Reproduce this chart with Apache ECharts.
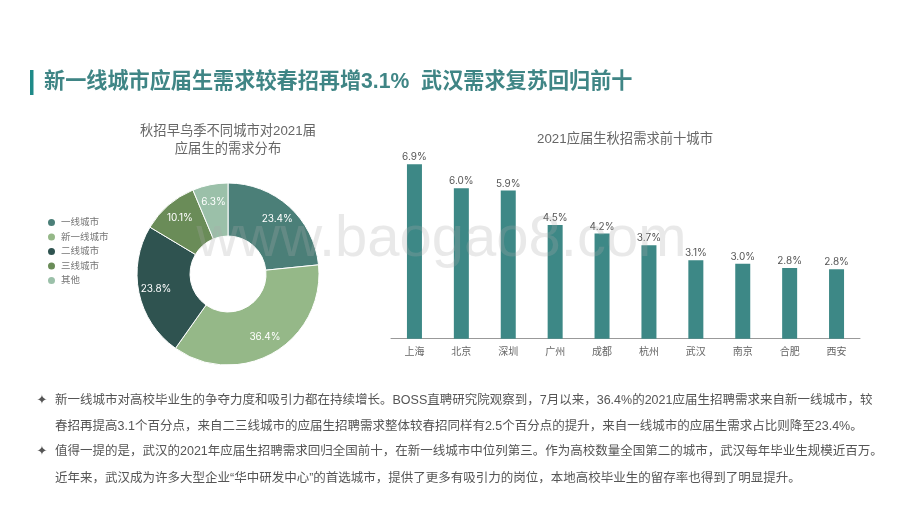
<!DOCTYPE html>
<html lang="zh">
<head>
<meta charset="UTF-8"/>
<title>新一线城市应届生需求</title>
<script src="https://cdn.jsdelivr.net/npm/echarts@6/dist/echarts.min.js"></script>
<style>
  html, body { margin: 0; padding: 0; background: #fff; }
  #main { width: 920px; height: 518px; }
</style>
</head>
<body>
<div id="main"></div>
<script>
var pieNames = ['一线城市', '新一线城市', '二线城市', '三线城市', '其他'];
var pieValues = [23.4, 36.4, 23.8, 10.1, 6.3];
var pieColors = ['#4b7f78', '#95b888', '#2f5350', '#6a8c58', '#9bc0a9'];

var cities = ['上海', '北京', '深圳', '广州', '成都', '杭州', '武汉', '南京', '合肥', '西安'];
// bar heights, they differ a bit from the printed labels
var cityValues = [6.9, 5.95, 5.86, 4.5, 4.16, 3.7, 3.1, 2.96, 2.8, 2.75];

var headline = '新一线城市应届生需求较春招再增3.1%  武汉需求复苏回归前十';
var bodyLines = [
  '新一线城市对高校毕业生的争夺力度和吸引力都在持续增长。BOSS直聘研究院观察到，7月以来，36.4%的2021应届生招聘需求来自新一线城市，较',
  '春招再提高3.1个百分点，来自二三线城市的应届生招聘需求整体较春招同样有2.5个百分点的提升，来自一线城市的应届生需求占比则降至23.4%。',
  '值得一提的是，武汉的2021年应届生招聘需求回归全国前十，在新一线城市中位列第三。作为高校数量全国第二的城市，武汉每年毕业生规模近百万。',
  '近年来，武汉成为许多大型企业“华中研发中心”的首选城市，提供了更多有吸引力的岗位，本地高校毕业生的留存率也得到了明显提升。'
];
var bodyY = [401, 427, 452, 479];
var bulletY = [401, 452];

var font = '"Liberation Sans", "Noto Sans CJK SC", sans-serif';
var labelFont = 'Inter, "Noto Sans CJK SC", sans-serif';

var graphics = [
  { type: 'text', z: 100, silent: true, style: { x: 441.5, y: 240, text: 'www.baogao8.com', align: 'center', verticalAlign: 'middle', font: '58px "Liberation Sans", sans-serif', fill: 'rgba(170,170,170,0.26)' } },
  { type: 'rect', shape: { x: 30, y: 70, width: 3.5, height: 25 }, style: { fill: '#1f8a88' } },
  { type: 'text', style: { x: 44, y: 82, text: headline, verticalAlign: 'middle', font: '600 21.15px ' + font, fill: '#3f8585' } }
];
bodyLines.forEach(function (line, i) {
  graphics.push({ type: 'text', style: { x: 55, y: bodyY[i], text: line, verticalAlign: 'middle', font: '12.5px ' + font, fill: '#555555' } });
});
bulletY.forEach(function (y) {
  graphics.push({ type: 'text', style: { x: 42, y: y, text: '✦', align: 'center', verticalAlign: 'middle', font: '13px "DejaVu Sans"', fill: '#555555' } });
});

var pieData = pieNames.map(function (n, i) {
  return { name: n, value: pieValues[i], itemStyle: { color: pieColors[i] } };
});

// move the slice labels a few px outward from mid radius, along each slice's own angle
function pieLabelShift(params) {
  var before = 0;
  for (var i = 0; i < params.dataIndex; i++) before += pieValues[i];
  var total = pieValues.reduce(function (a, b) { return a + b; }, 0);
  var ang = (before + pieValues[params.dataIndex] / 2) / total * Math.PI * 2;
  return { dx: Math.sin(ang) * 6, dy: -Math.cos(ang) * 6 };
}

var myChart = echarts.init(document.getElementById('main'));
myChart.setOption({
  animation: false,
  title: [
    { text: '秋招早鸟季不同城市对2021届\n应届生的需求分布', left: 223, top: 117, textAlign: 'center',
      textStyle: { fontSize: 13.3, fontWeight: 'normal', color: '#666666', fontFamily: font, lineHeight: 18 } },
    { text: '2021应届生秋招需求前十城市', left: 620, top: 125, textAlign: 'center',
      textStyle: { fontSize: 13.3, fontWeight: 'normal', color: '#666666', fontFamily: font, lineHeight: 18 } }
  ],
  legend: {
    orient: 'vertical', left: 41, top: 212, icon: 'circle',
    itemWidth: 9, itemHeight: 9, itemGap: 3.5,
    data: pieNames,
    textStyle: { fontSize: 9.5, color: '#777777', fontFamily: font, lineHeight: 9 }
  },
  grid: { left: 391, top: 140, width: 469, height: 198.7, containLabel: false },
  xAxis: {
    type: 'category', data: cities,
    axisTick: { show: false },
    axisLine: { lineStyle: { color: '#999999', width: 1 } },
    axisLabel: { fontSize: 10, color: '#666666', fontFamily: font, margin: 9, interval: 0 }
  },
  yAxis: { type: 'value', min: 0, max: 7.86, show: false, splitLine: { show: false } },
  series: [
    {
      type: 'bar', data: cityValues, barWidth: 15,
      itemStyle: { color: '#3d8886' },
      label: { show: true, position: 'top', distance: 2, fontSize: 10, color: '#555555', fontFamily: labelFont,
        formatter: function (p) { return p.value.toFixed(1) + '%'; } }
    },
    {
      type: 'pie', center: [228, 274], radius: [38, 91], startAngle: 90, clockwise: true,
      data: pieData,
      silent: true,
      itemStyle: { borderColor: '#ffffff', borderWidth: 1 },
      labelLine: { show: false },
      labelLayout: pieLabelShift,
      label: { show: true, position: 'inside', fontSize: 10, color: '#ffffff', fontFamily: labelFont,
        formatter: function (p) { return p.value.toFixed(1) + '%'; } }
    }
  ],
  graphic: graphics
});
</script>
</body>
</html>
